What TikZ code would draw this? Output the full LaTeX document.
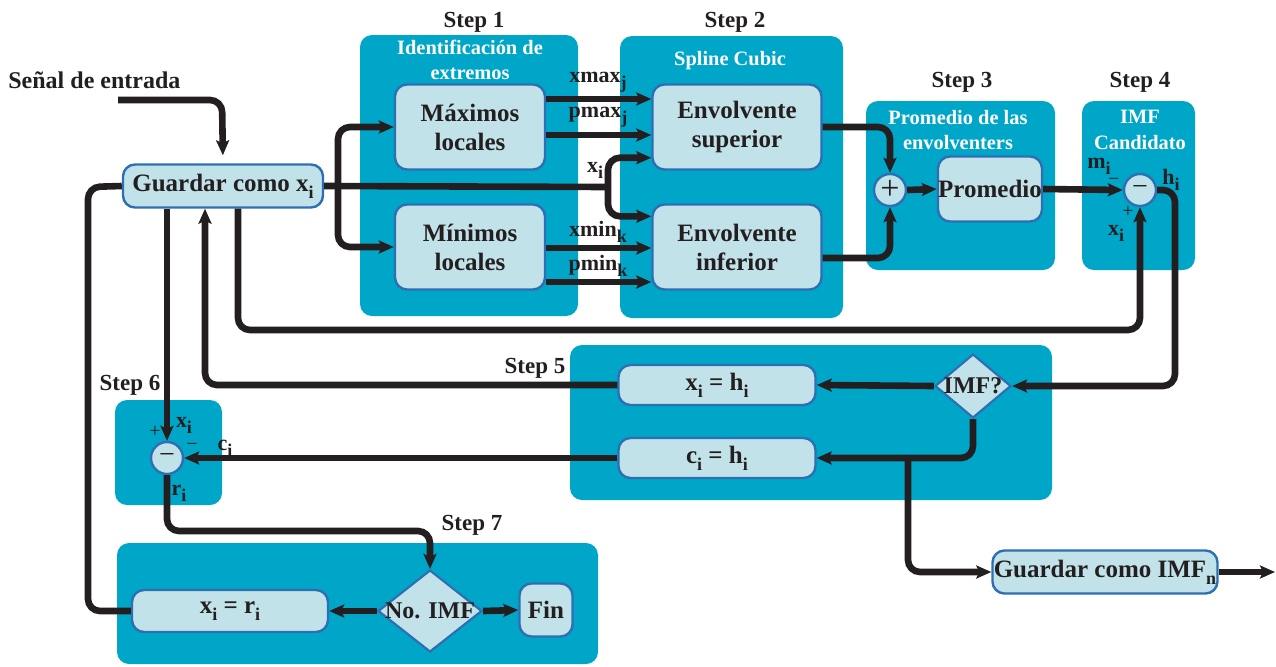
\documentclass[tikz,border=0pt]{standalone}
\usepackage{fontspec}
\setmainfont{Liberation Serif}
\usetikzlibrary{arrows.meta,shapes.geometric,calc}
\definecolor{panel}{HTML}{00A6C8}
\definecolor{boxfill}{HTML}{C2E2E9}
\definecolor{boxline}{HTML}{2E6FB4}
\definecolor{ink}{HTML}{231F20}
% lowered subscript in text
\newcommand\lo[1]{\raisebox{-0.6ex}{\fontsize{9}{9}\selectfont #1}}

\begin{document}
\begin{tikzpicture}[x=0.5pt,y=-0.5pt,
  font=\bfseries\fontsize{12.5}{14}\selectfont, text=ink,
  panelbox/.style={fill=panel, rounded corners=6pt},
  blockbox/.style={draw=boxline, line width=1.2pt, fill=boxfill, rounded corners=6pt,
    align=center, inner sep=0pt, font=\bfseries\fontsize{12.5}{14.5}\selectfont},
  circ/.style={circle, draw=boxline, line width=1.2pt, fill=boxfill, minimum size=16pt,
    inner sep=0pt, font=\fontsize{14}{14}\selectfont},
  diam/.style={diamond, draw=boxline, line width=1.1pt, fill=boxfill, inner sep=0pt},
  steplbl/.style={font=\bfseries\fontsize{11.5}{13}\selectfont, text=ink},
  paneltitle/.style={font=\bfseries\fontsize{10.2}{12.8}\selectfont, text=white, align=center},
  lbl/.style={font=\bfseries\fontsize{11}{12}\selectfont, text=ink, inner sep=0pt},
  sign/.style={font=\fontsize{10}{10}\selectfont, text=ink, inner sep=0pt},
  line/.style={draw=ink, line width=3.3pt, rounded corners=6pt},
  arr/.style={line, -{Stealth[length=7.5pt,width=6.5pt,inset=1.5pt]}},
]
\useasboundingbox (0,0) rectangle (1276,666);

% ---- coloured step panels ----
\fill[panelbox] (360,35) rectangle (578,316);
\fill[panelbox] (620,36) rectangle (843,318);
\fill[panelbox] (866,101) rectangle (1055,270);
\fill[panelbox] (1082,101) rectangle (1195,270);
\fill[panelbox] (570,345) rectangle (1052,500);
\fill[panelbox] (115,400) rectangle (222,505);
\fill[panelbox] (117,543) rectangle (598,664);

% ---- step captions ----
\node[steplbl] (s1) at (474,22) {Step 1};
\node[steplbl] (s2) at (735,22) {Step 2};
\node[steplbl] (s3) at (962,82) {Step 3};
\node[steplbl] (s4) at (1140,82) {Step 4};
\node[steplbl] (s5) at (535,368) {Step 5};
\node[steplbl] (s6) at (130,385) {Step 6};
\node[steplbl] (s7) at (472,525) {Step 7};

% ---- panel titles ----
\node[paneltitle] (t1) at (470,60) {Identificación de\\extremos};
\node[paneltitle] (t2) at (730,61) {Spline Cubic};
\node[paneltitle] (t3) at (958,130) {Promedio de las\\envolventers};
\node[paneltitle] (t4) at (1140,130) {IMF\\Candidato};

% ---- blocks ----
\node[font=\bfseries\fontsize{12}{14}\selectfont, anchor=west, inner sep=0pt] (sig) at (8,80) {Señal de entrada};
\node[blockbox, minimum width=100pt, minimum height=21.5pt] (g) at (223,186) {Guardar como x\lo{i}};
\node[blockbox, minimum width=75pt, minimum height=42.5pt] (max) at (470,127) {Máximos\\locales};
\node[blockbox, minimum width=75pt, minimum height=42.5pt] (min) at (470,247) {Mínimos\\locales};
\node[blockbox, minimum width=84.5pt, minimum height=42.5pt] (es) at (737,127) {Envolvente\\superior};
\node[blockbox, minimum width=84.5pt, minimum height=42.5pt] (ei) at (737,247) {Envolvente\\inferior};
\node[circ, font=\fontsize{17}{17}\selectfont] (plus) at (890,190) {+};
\node[blockbox, minimum width=52pt, minimum height=32.5pt] (prom) at (990,189) {Promedio};
\node[circ] (m4) at (1140,190) {−};
\node[blockbox, minimum width=98.5pt, minimum height=20pt] (xh) at (717,385) {x\lo{i} = h\lo{i}};
\node[blockbox, minimum width=98.5pt, minimum height=20pt] (ch) at (717,458) {c\lo{i} = h\lo{i}};
\node[diam, minimum width=38pt, minimum height=32pt] (imf) at (973,386) {};
\node[font=\bfseries\fontsize{12}{14}\selectfont, inner sep=0pt] (imft) at (973,386) {IMF?};
\node[blockbox, minimum width=112.5pt, minimum height=21.5pt] (gim) at (1105,572) {Guardar como IMF\lo{n}};
\node[circ] (m6) at (167,458) {−};
\node[blockbox, minimum width=98pt, minimum height=21pt] (xr) at (230,611) {x\lo{i} = r\lo{i}};
\node[diam, minimum width=52pt, minimum height=41pt] (nimf) at (430,611) {};
\node[font=\bfseries\fontsize{12}{14}\selectfont, inner sep=0pt] (nimft) at (430,611) {No. IMF};
\node[blockbox, minimum width=26.5pt, minimum height=26.5pt] (fin) at (546,610) {Fin};

% ---- free ends and bends ----
\coordinate (in) at (118,100);
\coordinate (inbend) at (222,100);
\coordinate (split) at (608,187);
\coordinate (jx) at (338,187);
\coordinate (hc) at (1175,386);
\coordinate (low) at (238,330);
\coordinate (br) at (908,460);
\coordinate (out) at (1275,572);
\coordinate (rt) at (430,531);
\coordinate (lc) at (88,187);

% ---- connectors ----
\draw[arr, shorten >=4pt] (in) -- (inbend) -- (g.north);
\draw[line] (g.east) -- (split);
\draw[arr] (split) |- ($(es.south west)+(0,-13)$);
\draw[arr] (split) |- ($(ei.north west)+(0,13)$);
\draw[arr] (jx) |- (max.west);
\draw[arr] (jx) |- (min.west);
\draw[arr] ([yshift=14pt]max.east) -- ([yshift=14pt]max.east -| es.west);
\draw[arr] ([yshift=-4pt]max.east) -- ([yshift=-4pt]max.east -| es.west);
\draw[arr] ([yshift=-0.5pt]min.east) -- ([yshift=-0.5pt]min.east -| ei.west);
\draw[arr] ([yshift=-17.5pt]min.east) -- ([yshift=-17.5pt]min.east -| ei.west);
\draw[arr] (es.east) -| (plus.north);
\draw[arr] ([yshift=-5.5pt]ei.east) -| (plus.south);
\draw[arr] (plus.east) -- (prom.west);
\draw[arr] (prom.east) -- (m4.west);
\draw[arr] (m4.east) -| (hc) -- (imf.east);
\draw[arr] ([xshift=7.5pt]g.south) -- (low) -| (m4.south);
\draw[arr] (imf.west) -- (xh.east);
\draw[arr] (xh.west) -| ([xshift=-9pt]g.south);
\draw[arr] (imf.south) |- (ch.east);
\draw[arr] (br) |- (gim.west);
\draw[arr] (gim.east) -- (out);
\draw[arr] ([xshift=-28pt]g.south) -- (m6.north);
\draw[arr] (ch.west) -- (m6.east);
\draw[arr] (m6.south) |- (rt) -- (nimf.north);
\draw[arr] (nimf.west) -- (xr.east);
\draw[arr] (nimf.east) -- (fin.west);
\draw[line] (xr.west) -| (lc) -- (g.west);

% ---- signal labels ----
\node[lbl] (lxmax) at (598,82) {xmax\lo{j}};
\node[lbl] (lpmax) at (598,117) {pmax\lo{j}};
\node[lbl] (lxmin) at (598,232) {xmin\lo{k}};
\node[lbl] (lpmin) at (598,266) {pmin\lo{k}};
\node[lbl] (lxs) at (595,170) {x\lo{i}};
\node[lbl] (lm) at (1099,166) {m\lo{i}};
\node[sign] (lm4) at (1114,182) {−};
\node[lbl] (lh) at (1171,180) {h\lo{i}};
\node[sign] (lp4) at (1128,212) {+};
\node[lbl] (lx4) at (1116,233) {x\lo{i}};
\node[sign] (lp6) at (155,432) {+};
\node[lbl] (lx6) at (184,425) {x\lo{i}};
\node[sign] (lm6) at (192,447) {−};
\node[lbl] (lc6) at (225,448) {c\lo{i}};
\node[lbl] (lr6) at (179,493) {r\lo{i}};
\end{tikzpicture}
\end{document}
